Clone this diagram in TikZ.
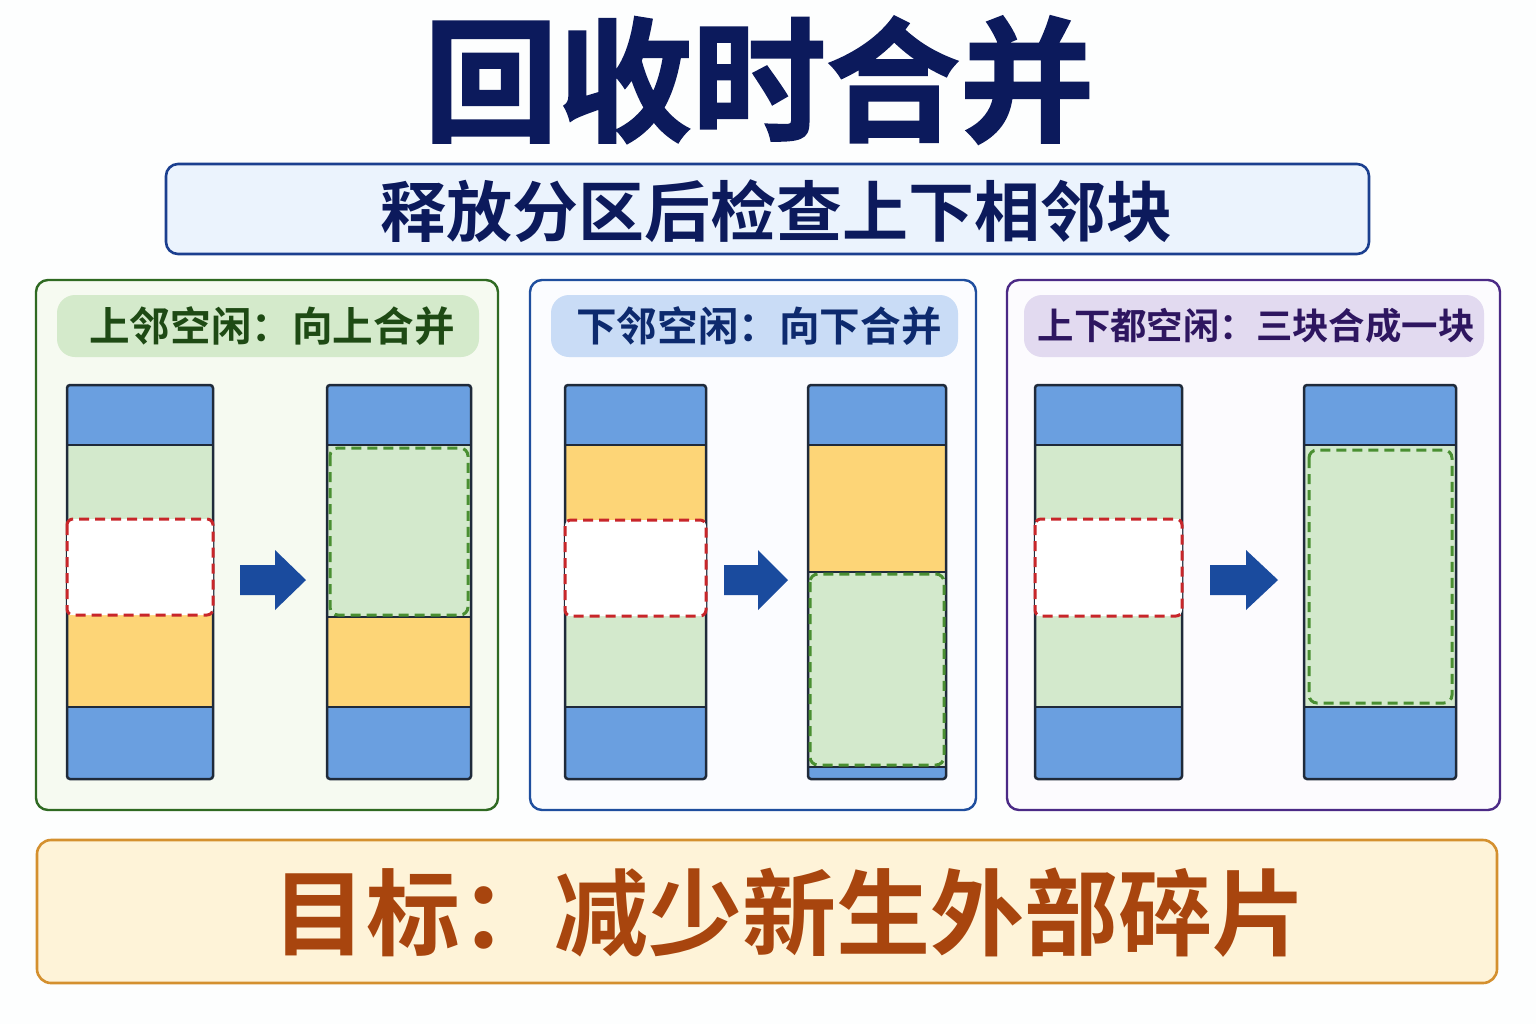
\documentclass[tikz,border=0pt]{standalone}
\usepackage{fontspec}
\newfontfamily\cjk{Noto Sans CJK SC}
\newfontfamily\cjkb{Noto Sans CJK SC Bold}
\newfontfamily\cjkh{Noto Sans CJK SC Bold}[FakeBold=1.6]
\definecolor{bgc}{HTML}{FDFEFE}
\definecolor{navy}{HTML}{0C1A5C}
\definecolor{subb}{HTML}{1B3F8F}
\definecolor{subf}{HTML}{EBF3FD}
\definecolor{pgreen}{HTML}{2F6A22}
\definecolor{pgreenf}{HTML}{F6FAF1}
\definecolor{hgreen}{HTML}{D4EACB}
\definecolor{tgreen}{HTML}{1E4A14}
\definecolor{pblue}{HTML}{1F4E9E}
\definecolor{pbluef}{HTML}{FBFCFF}
\definecolor{hblue}{HTML}{C9DCF6}
\definecolor{tblue}{HTML}{0D2A6E}
\definecolor{ppurp}{HTML}{4B2A86}
\definecolor{ppurpf}{HTML}{FCFBFE}
\definecolor{hpurp}{HTML}{E2DAF0}
\definecolor{tpurp}{HTML}{2E1660}
\definecolor{obord}{HTML}{D4902F}
\definecolor{ofill}{HTML}{FEF3D8}
\definecolor{otext}{HTML}{A8450E}
\definecolor{cblue}{HTML}{6A9FE0}
\definecolor{cgreen}{HTML}{D3E9CC}
\definecolor{cyellow}{HTML}{FDD577}
\definecolor{cbord}{HTML}{1F2A3A}
\definecolor{cred}{HTML}{C8262A}
\definecolor{cdgreen}{HTML}{4A8F32}
\definecolor{arrowc}{HTML}{1A4B9E}
\tikzset{
  colb/.style={draw=cbord, line width=1.25pt, rounded corners=1.5pt},
  sepl/.style={draw=cbord, line width=1.1pt},
  reddash/.style={draw=cred, line width=1.5pt, dash pattern=on 5pt off 3pt, rounded corners=3pt, fill=white},
  grdash/.style={draw=cdgreen, line width=1.5pt, dash pattern=on 5pt off 3pt, rounded corners=4pt, fill=cgreen},
  panelb/.style={line width=1.2pt, rounded corners=6pt},
  headb/.style={rounded corners=9pt},
  bigarrow/.style={fill=arrowc},
}
\begin{document}
\begin{tikzpicture}[x=0.5pt,y=-0.5pt]
\useasboundingbox (0,0) rectangle (1536,1024);
\fill[bgc] (0,0) rectangle (1536,1024);

% title
\node[text=navy, inner sep=0pt] (title) at (759,80) {\cjkh\fontsize{67pt}{70pt}\selectfont 回收时合并};

% subtitle box
\draw[draw=subb, fill=subf, line width=1.3pt, rounded corners=6pt] (166,164) rectangle (1369,254);
\node[text=navy, inner sep=0pt] (sub) at (776,211) {\cjkb\fontsize{33pt}{35pt}\selectfont 释放分区后检查上下相邻块};

% ---------- panel 1 ----------
\draw[panelb, draw=pgreen, fill=pgreenf] (36,280) rectangle (498,810);
\fill[headb, hgreen] (57,295) rectangle (479,357);
\node[text=tgreen, inner sep=0pt] (h1) at (272,326) {\cjkb\fontsize{20.3pt}{22pt}\selectfont 上邻空闲：向上合并};
% left column
\fill[cblue] (67,385) rectangle (213,445);
\fill[cgreen] (67,445) rectangle (213,519);
\fill[cyellow] (67,615) rectangle (213,707);
\fill[cblue] (67,707) rectangle (213,779);
\draw[sepl] (67,445) -- (213,445);
\draw[sepl] (67,707) -- (213,707);
\draw[colb] (67,385) rectangle (213,779);
\draw[reddash] (67,519) rectangle (213,615);
% arrow
\fill[bigarrow] (240,565) -- (275,565) -- (275,550) -- (306,580) -- (275,610) -- (275,595) -- (240,595) -- cycle;
% right column
\fill[cblue] (327,385) rectangle (471,445);
\fill[cgreen] (327,445) rectangle (471,617);
\fill[cyellow] (327,617) rectangle (471,707);
\fill[cblue] (327,707) rectangle (471,779);
\draw[sepl] (327,445) -- (471,445);
\draw[sepl] (327,617) -- (471,617);
\draw[sepl] (327,707) -- (471,707);
\draw[colb] (327,385) rectangle (471,779);
\draw[grdash] (330,448) rectangle (468,615);

% ---------- panel 2 ----------
\draw[panelb, draw=pblue, fill=pbluef] (530,280) rectangle (976,810);
\fill[headb, hblue] (551,295) rectangle (958,357);
\node[text=tblue, inner sep=0pt] (h2) at (759,326) {\cjkb\fontsize{20.3pt}{22pt}\selectfont 下邻空闲：向下合并};
% left column
\fill[cblue] (565,385) rectangle (706,445);
\fill[cyellow] (565,445) rectangle (706,520);
\fill[cgreen] (565,616) rectangle (706,707);
\fill[cblue] (565,707) rectangle (706,779);
\draw[sepl] (565,445) -- (706,445);
\draw[sepl] (565,707) -- (706,707);
\draw[colb] (565,385) rectangle (706,779);
\draw[reddash] (565,520) rectangle (706,616);
% arrow
\fill[bigarrow] (724,565) -- (758,565) -- (758,550) -- (788,580) -- (758,610) -- (758,595) -- (724,595) -- cycle;
% right column
\fill[cblue] (808,385) rectangle (946,445);
\fill[cyellow] (808,445) rectangle (946,572);
\fill[cgreen] (808,572) rectangle (946,767);
\fill[cblue] (808,767) rectangle (946,779);
\draw[sepl] (808,445) -- (946,445);
\draw[sepl] (808,572) -- (946,572);
\draw[sepl] (808,767) -- (946,767);
\draw[colb] (808,385) rectangle (946,779);
\draw[grdash] (810,574) rectangle (944,765);

% ---------- panel 3 ----------
\draw[panelb, draw=ppurp, fill=ppurpf] (1007,280) rectangle (1500,810);
\fill[headb, hpurp] (1024,295) rectangle (1484,357);
\node[text=tpurp, inner sep=0pt] (h3) at (1256,326) {\cjkb\fontsize{18.2pt}{20pt}\selectfont 上下都空闲：三块合成一块};
% left column
\fill[cblue] (1035,385) rectangle (1182,445);
\fill[cgreen] (1035,445) rectangle (1182,519);
\fill[cgreen] (1035,616) rectangle (1182,707);
\fill[cblue] (1035,707) rectangle (1182,779);
\draw[sepl] (1035,445) -- (1182,445);
\draw[sepl] (1035,707) -- (1182,707);
\draw[colb] (1035,385) rectangle (1182,779);
\draw[reddash] (1035,519) rectangle (1182,616);
% arrow
\fill[bigarrow] (1210,565) -- (1246,565) -- (1246,550) -- (1278,580) -- (1246,610) -- (1246,595) -- (1210,595) -- cycle;
% right column
\fill[cblue] (1304,385) rectangle (1456,445);
\fill[cgreen] (1304,445) rectangle (1456,707);
\fill[cblue] (1304,707) rectangle (1456,779);
\draw[sepl] (1304,445) -- (1456,445);
\draw[sepl] (1304,707) -- (1456,707);
\draw[colb] (1304,385) rectangle (1456,779);
\draw[grdash] (1309,450) rectangle (1452,703);

% ---------- bottom ----------
\draw[draw=obord, fill=ofill, line width=1.3pt, rounded corners=7pt] (37,840) rectangle (1497,983);
\node[text=otext, inner sep=0pt] (goal) at (789,913) {\cjkb\fontsize{47pt}{50pt}\selectfont 目标：减少新生外部碎片};
\end{tikzpicture}
\end{document}
